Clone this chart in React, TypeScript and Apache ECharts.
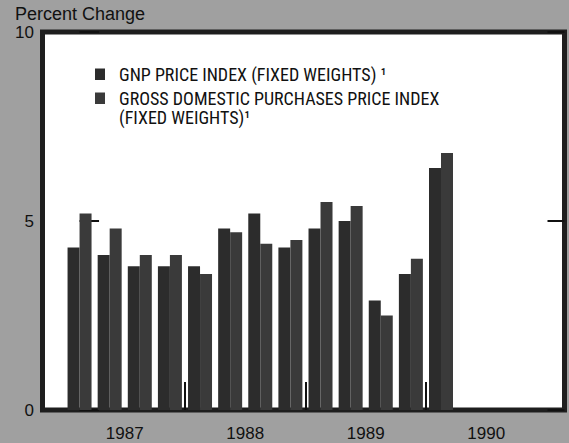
import React, { useEffect, useRef } from "react";
import * as echarts from "echarts";

// Quarterly percent change, 1987 Q1 – 1990 Q1
const quarters = [
  "1987 Q1", "1987 Q2", "1987 Q3", "1987 Q4",
  "1988 Q1", "1988 Q2", "1988 Q3", "1988 Q4",
  "1989 Q1", "1989 Q2", "1989 Q3", "1989 Q4",
  "1990 Q1",
];
const gnpPriceIndex = [4.3, 4.1, 3.8, 3.8, 3.8, 4.8, 5.2, 4.3, 4.8, 5.0, 2.9, 3.6, 6.4];
const grossDomesticPurchases = [5.2, 4.8, 4.1, 4.1, 3.6, 4.7, 4.4, 4.5, 5.5, 5.4, 2.5, 4.0, 6.8];
const years = ["1987", "1988", "1989", "1990"];
const yMin = 0;
const yMax = 10;
const yInterval = 5;

const seriesNames = ["GNP PRICE INDEX (FIXED WEIGHTS)", "GROSS DOMESTIC PURCHASES PRICE INDEX (FIXED WEIGHTS)"];
const legendLabels = [
  "GNP PRICE INDEX (FIXED WEIGHTS) \u00B9",
  "GROSS DOMESTIC PURCHASES PRICE INDEX\n(FIXED WEIGHTS)\u00B9",
];
const seriesColors = ["#2c2c2c", "#3a3a3a"];

const NARROW = "'Liberation Sans Narrow', 'Arial Narrow', 'Roboto Condensed', 'DejaVu Sans Condensed', sans-serif";
const SANS = "'Liberation Sans', Arial, Helvetica, sans-serif";

export default function App() {
  const ref = useRef<HTMLDivElement>(null);

  useEffect(() => {
    if (!ref.current) return;
    const chart = echarts.init(ref.current, undefined, { renderer: "svg" });

    const quartersPerYear = 4;
    const yearCenters = years.map((_, k) => k * quartersPerYear + (quartersPerYear - 1) / 2);
    const yearDividers = years.slice(1).map((_, k) => (k + 1) * quartersPerYear - 0.5);

    const legendTops = [68.5, 92.5];
    const legendGraphics = legendLabels.flatMap((label, i) => [
      {
        type: "rect",
        x: 95,
        y: legendTops[i],
        shape: { x: 0, y: 0, width: 10, height: 11.5 },
        style: { fill: seriesColors[i] },
      },
      {
        type: "text",
        x: 119,
        y: legendTops[i] + 5.75 - 9.5,
        style: {
          text: label,
          fontFamily: NARROW,
          fontSize: 18,
          lineHeight: 19,
          fill: "#111",
          verticalAlign: "top",
          align: "left",
        },
      },
    ]);

    chart.setOption({
      animation: false,
      backgroundColor: "#a0a0a0",
      title: {
        text: "Percent Change",
        left: 15,
        top: 4,
        padding: 0,
        textStyle: {
          fontFamily: SANS,
          fontSize: 18,
          fontWeight: "normal",
          color: "#111",
          lineHeight: 19,
        },
      },
      legend: { show: false },
      graphic: { elements: legendGraphics },
      grid: {
        left: 42.5,
        right: 4.5,
        top: 32,
        bottom: 33,
        show: true,
        backgroundColor: "#ffffff",
        borderColor: "#1e1e1e",
        borderWidth: 5,
      },
      xAxis: {
        type: "value",
        min: -1.23,
        max: 16.1,
        offset: 3,
        axisLine: { show: true, lineStyle: { color: "#1e1e1e", width: 4 } },
        axisTick: {
          show: true,
          inside: true,
          length: 28,
          customValues: yearDividers,
          lineStyle: { color: "#111", width: 2 },
        },
        axisLabel: {
          customValues: yearCenters,
          margin: 12,
          fontFamily: SANS,
          fontSize: 17,
          lineHeight: 17,
          color: "#111",
          formatter: (v: number) => years[Math.round((v - (quartersPerYear - 1) / 2) / quartersPerYear)] ?? "",
        },
        splitLine: { show: false },
      },
      yAxis: [
        {
          type: "value",
          min: yMin,
          max: yMax,
          interval: yInterval,
          position: "left",
          axisLine: { show: false },
          axisTick: { show: true, inside: true, length: 19.5, lineStyle: { color: "#111", width: 2 } },
          axisLabel: { margin: 8.5, fontFamily: SANS, fontSize: 17, color: "#111" },
          splitLine: { show: false },
        },
        {
          type: "value",
          min: yMin,
          max: yMax,
          interval: yInterval,
          position: "right",
          axisLine: { show: false },
          axisTick: { show: true, inside: true, length: 17, lineStyle: { color: "#111", width: 2 } },
          axisLabel: { show: false },
          splitLine: { show: false },
        },
      ],
      series: [
        {
          name: seriesNames[0],
          type: "bar",
          barWidth: 12,
          barGap: "0%",
          itemStyle: { color: seriesColors[0] },
          data: gnpPriceIndex.map((v, i) => [i, v]),
        },
        {
          name: seriesNames[1],
          type: "bar",
          barWidth: 12,
          barGap: "0%",
          itemStyle: { color: seriesColors[1] },
          data: grossDomesticPurchases.map((v, i) => [i, v]),
        },
      ],
    });

    return () => chart.dispose();
  }, []);

  return (
    <div
      ref={ref}
      style={{ position: "absolute", left: 0, top: 0, width: 569, height: 443 }}
      data-quarters={quarters.length}
    />
  );
}
